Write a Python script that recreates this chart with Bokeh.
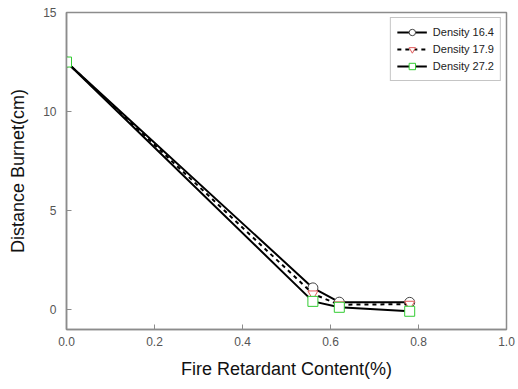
from bokeh.plotting import figure
from bokeh.models import Range1d, FixedTicker, PrintfTickFormatter, Legend, LegendItem
from bokeh.embed import file_html
from bokeh.resources import INLINE

content = [0.0, 0.56, 0.62, 0.78]
d164 = [12.5, 1.1, 0.38, 0.37]
d179 = [12.5, 0.8, 0.25, 0.28]
d272 = [12.5, 0.42, 0.12, -0.08]

x_ticks = [0.0, 0.2, 0.4, 0.6, 0.8, 1.0]
y_ticks = [0, 5, 10, 15]

FONT = "Liberation Sans"

p = figure(width=518, height=389, output_backend="svg", toolbar_location=None,
           x_range=Range1d(0, 1.0), y_range=Range1d(-1, 15),
           min_border_left=66, min_border_right=12, min_border_top=12, min_border_bottom=60)
p.grid.visible = False
p.outline_line_color = "#8c8c8c"
p.outline_line_width = 1.5

for ax in (p.xaxis[0], p.yaxis[0]):
    ax.axis_line_color = "#8c8c8c"
    ax.axis_line_width = 1.5
    ax.major_tick_line_color = "#8c8c8c"
    ax.major_tick_in = 5
    ax.major_tick_out = 0
    ax.minor_tick_line_color = None
    ax.major_label_text_font = FONT
    ax.major_label_text_font_size = "12px"
    ax.major_label_text_color = "#555555"
    ax.axis_label_text_font = FONT
    ax.axis_label_text_font_size = "18px"
    ax.axis_label_text_font_style = "normal"
    ax.axis_label_text_color = "#111111"

p.xaxis.ticker = FixedTicker(ticks=x_ticks)
p.yaxis.ticker = FixedTicker(ticks=y_ticks)
p.xaxis.formatter = PrintfTickFormatter(format="%.1f")
p.xaxis.major_label_standoff = 7
p.yaxis.major_label_standoff = 10
p.xaxis.axis_label = "Fire Retardant Content(%)"
p.yaxis.axis_label = "Distance Burnet(cm)"
p.xaxis.axis_label_standoff = 10
p.yaxis.axis_label_standoff = 12

l1 = p.line(content, d164, line_color="black", line_width=2)
m1 = p.scatter(content, d164, marker="circle", size=10, fill_color="white", line_color="#444444", line_width=1)
l2 = p.line(content, d179, line_color="black", line_width=2, line_dash="4 4")
m2 = p.scatter(content, d179, marker="inverted_triangle", size=10, fill_color="white", line_color="#e05a5a", line_width=1)
l3 = p.line(content, d272, line_color="black", line_width=2)
m3 = p.scatter(content, d272, marker="square", size=10, fill_color="white", line_color="#33cc33", line_width=1)

legend = Legend(items=[
    LegendItem(label="Density 16.4", renderers=[l1, m1]),
    LegendItem(label="Density 17.9", renderers=[l2, m2]),
    LegendItem(label="Density 27.2", renderers=[l3, m3]),
], location="top_right")
legend.margin = 5
legend.padding = 6
legend.spacing = 1
legend.glyph_width = 30
legend.glyph_height = 16
legend.label_standoff = 6
legend.label_text_font = FONT
legend.label_text_font_size = "11px"
legend.label_text_color = "#222222"
legend.border_line_color = "#8c8c8c"
legend.border_line_width = 1.5
legend.background_fill_alpha = 1.0
p.add_layout(legend)

open("out.html", "w").write(file_html(p, INLINE))
